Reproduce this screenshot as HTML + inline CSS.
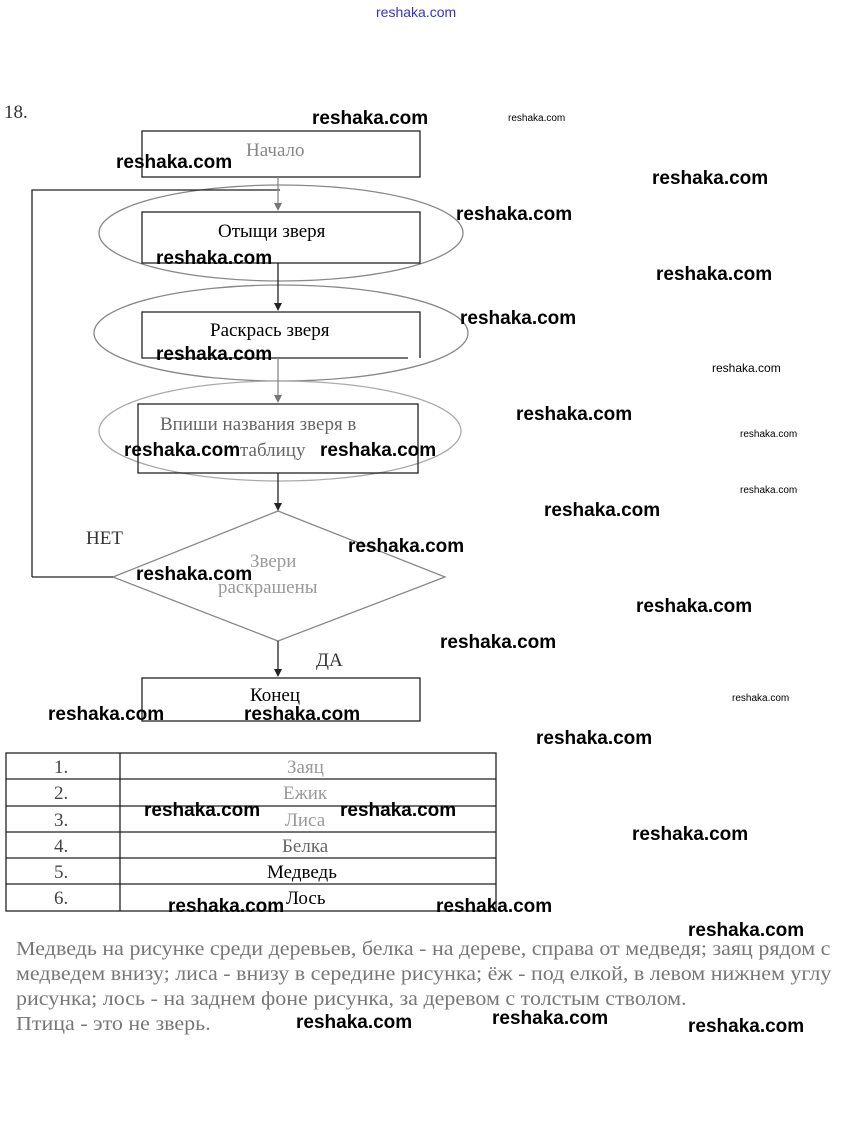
<!DOCTYPE html>
<html><head><meta charset="utf-8"><style>
body{margin:0;width:847px;height:1146px;background:#fff;position:relative;overflow:hidden;font-family:"Liberation Serif",serif}
.w{position:absolute;font-family:"Liberation Sans",sans-serif;font-weight:bold;font-size:19px;color:#000;line-height:1;white-space:nowrap}
.ws{position:absolute;font-family:"Liberation Sans",sans-serif;font-size:10px;color:#000;line-height:1}
.t{position:absolute;font-size:19px;line-height:1;white-space:nowrap}
.p{position:absolute;left:16px;font-size:20px;color:#777;line-height:25px;white-space:nowrap;transform:scaleX(1.1);transform-origin:0 0}
</style></head><body>
<svg width="847" height="1146" style="position:absolute;left:0;top:0" xmlns="http://www.w3.org/2000/svg">
<g fill="none" stroke="#222" stroke-width="1.3">
<rect x="142" y="131" width="278" height="46"/>
<ellipse cx="281" cy="233" rx="182" ry="48" stroke="#888"/>
<rect x="142" y="212" width="278" height="51"/>
<ellipse cx="281" cy="333" rx="187" ry="48" stroke="#888"/>
<path d="M408,358 L142,358 L142,312 L420,312 L420,358"/>
<ellipse cx="280" cy="431" rx="181" ry="50" stroke="#aaa"/>
<rect x="138" y="404" width="280" height="69"/>
<polygon points="278,511 445,577 278,641 113,577" stroke="#888"/>
<rect x="142" y="678" width="278" height="43"/>
<path d="M32,577 L32,190 L280,190"/>
<path d="M32,577 L113,577"/>
<line x1="278" y1="177" x2="278" y2="204" stroke="#888"/>
<line x1="278" y1="263" x2="278" y2="304"/>
<line x1="278" y1="358" x2="278" y2="396" stroke="#888"/>
<line x1="278" y1="473" x2="278" y2="504"/>
<line x1="278" y1="641" x2="278" y2="670"/>
<rect x="6" y="753" width="490" height="158"/>
<line x1="120" y1="753" x2="120" y2="911"/>
<line x1="6" y1="779" x2="496" y2="779"/>
<line x1="6" y1="806" x2="496" y2="806"/>
<line x1="6" y1="832" x2="496" y2="832"/>
<line x1="6" y1="858" x2="496" y2="858"/>
<line x1="6" y1="884" x2="496" y2="884"/>
</g>
<g fill="#222">
<polygon points="274,203 282,203 278,211" fill="#777"/>
<polygon points="274,303 282,303 278,311"/>
<polygon points="274,395 282,395 278,403" fill="#777"/>
<polygon points="274,503 282,503 278,511"/>
<polygon points="274,669 282,669 278,677"/>
</g></svg>
<div style="position:absolute;left:376px;top:4px;font-family:'Liberation Sans',sans-serif;font-size:14px;color:#33c;">reshaka.com</div>
<div class="t" style="left:4px;top:103px;color:#333">18.</div>
<div class="t" style="left:246px;top:141px;color:#888">Начало</div>
<div class="t" style="left:218px;top:222px">Отыщи зверя</div>
<div class="t" style="left:210px;top:321px">Раскрась зверя</div>
<div class="t" style="left:160px;top:415px;color:#666">Впиши названия зверя в</div>
<div class="t" style="left:240px;top:441px;color:#666">таблицу</div>
<div class="t" style="left:250px;top:552px;color:#999">Звери</div>
<div class="t" style="left:218px;top:578px;color:#999">раскрашены</div>
<div class="t" style="left:86px;top:529px;color:#333">НЕТ</div>
<div class="t" style="left:316px;top:651px;color:#333">ДА</div>
<div class="t" style="left:250px;top:686px">Конец</div>
<div class="t" style="left:54px;top:758px;color:#444">1.</div><div class="t" style="left:287px;top:758px;color:#999">Заяц</div>
<div class="t" style="left:54px;top:784px;color:#444">2.</div><div class="t" style="left:283px;top:784px;color:#999">Ежик</div>
<div class="t" style="left:54px;top:811px;color:#444">3.</div><div class="t" style="left:285px;top:811px;color:#999">Лиса</div>
<div class="t" style="left:54px;top:837px;color:#444">4.</div><div class="t" style="left:282px;top:837px;color:#666">Белка</div>
<div class="t" style="left:54px;top:863px;color:#444">5.</div><div class="t" style="left:267px;top:863px">Медведь</div>
<div class="t" style="left:54px;top:889px;color:#444">6.</div><div class="t" style="left:286px;top:889px">Лось</div>
<div class="p" style="top:937px">Медведь на рисунке среди деревьев, белка - на дереве, справа от медведя; заяц рядом с</div>
<div class="p" style="top:962px">медведем внизу; лиса - внизу в середине рисунка; ёж - под елкой, в левом нижнем углу</div>
<div class="p" style="top:987px">рисунка; лось - на заднем фоне рисунка, за деревом с толстым стволом.</div>
<div class="p" style="top:1012px">Птица - это не зверь.</div>
<div class="w" style="left:312px;top:109px">reshaka.com</div>
<div class="ws" style="left:508px;top:114px">reshaka.com</div>
<div class="w" style="left:116px;top:153px">reshaka.com</div>
<div class="w" style="left:652px;top:169px">reshaka.com</div>
<div class="w" style="left:456px;top:205px">reshaka.com</div>
<div class="w" style="left:156px;top:249px">reshaka.com</div>
<div class="w" style="left:656px;top:265px">reshaka.com</div>
<div class="w" style="left:460px;top:309px">reshaka.com</div>
<div class="w" style="left:156px;top:345px">reshaka.com</div>
<div class="ws" style="left:712px;top:362px;font-size:12px">reshaka.com</div>
<div class="w" style="left:516px;top:405px">reshaka.com</div>
<div class="ws" style="left:740px;top:430px">reshaka.com</div>
<div class="w" style="left:124px;top:441px">reshaka.com</div>
<div class="w" style="left:320px;top:441px">reshaka.com</div>
<div class="ws" style="left:740px;top:486px">reshaka.com</div>
<div class="w" style="left:544px;top:501px">reshaka.com</div>
<div class="w" style="left:348px;top:537px">reshaka.com</div>
<div class="w" style="left:136px;top:565px">reshaka.com</div>
<div class="w" style="left:636px;top:597px">reshaka.com</div>
<div class="w" style="left:440px;top:633px">reshaka.com</div>
<div class="ws" style="left:732px;top:694px">reshaka.com</div>
<div class="w" style="left:48px;top:705px">reshaka.com</div>
<div class="w" style="left:244px;top:705px">reshaka.com</div>
<div class="w" style="left:536px;top:729px">reshaka.com</div>
<div class="w" style="left:144px;top:801px">reshaka.com</div>
<div class="w" style="left:340px;top:801px">reshaka.com</div>
<div class="w" style="left:632px;top:825px">reshaka.com</div>
<div class="w" style="left:168px;top:897px">reshaka.com</div>
<div class="w" style="left:436px;top:897px">reshaka.com</div>
<div class="w" style="left:688px;top:921px">reshaka.com</div>
<div class="w" style="left:296px;top:1013px">reshaka.com</div>
<div class="w" style="left:492px;top:1009px">reshaka.com</div>
<div class="w" style="left:688px;top:1017px">reshaka.com</div>
</body></html>
